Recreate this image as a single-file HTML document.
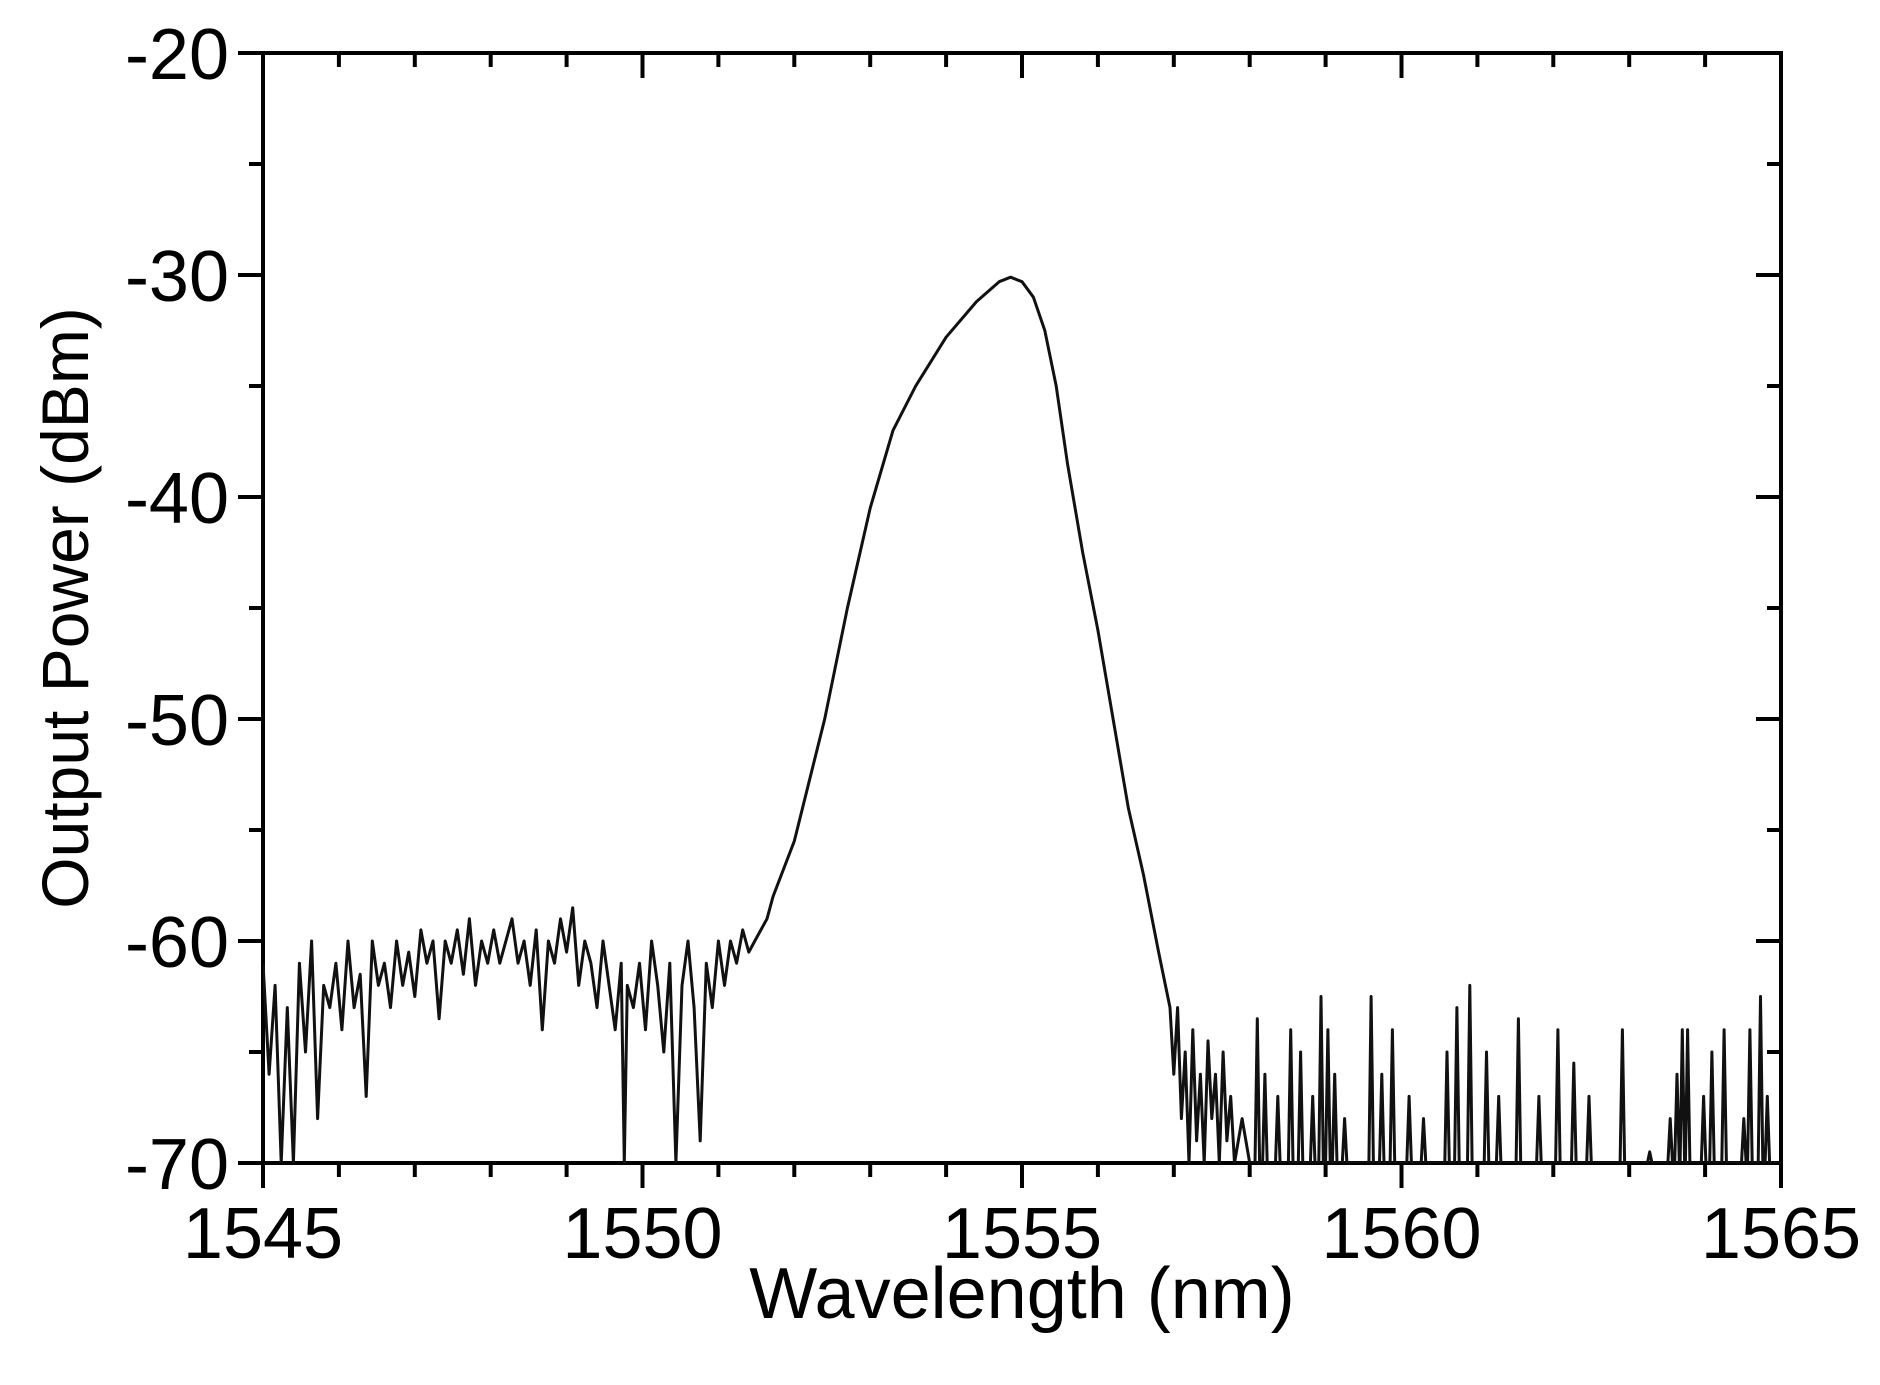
<!DOCTYPE html>
<html><head><meta charset="utf-8">
<style>
html,body{margin:0;padding:0;background:#fff;}
svg{display:block;}
text{font-family:"Liberation Sans",Arial,sans-serif;fill:#000;}
</style></head>
<body>
<svg id="chart" width="1880" height="1385" viewBox="0 0 1880 1385" xmlns="http://www.w3.org/2000/svg">
<defs><clipPath id="plotclip"><rect x="263" y="53" width="1518" height="1110"/></clipPath></defs>
<g id="axes"></g>
<g id="series" clip-path="url(#plotclip)"></g>
<text x="1022" y="1318" font-size="72" text-anchor="middle">Wavelength (nm)</text>
<text x="0" y="0" font-size="66" text-anchor="middle" transform="translate(88,608) rotate(-90)">Output Power (dBm)</text>
</svg>
<script>
const xTicks=[1545,1550,1555,1560,1565];
const yTicks=[-20,-30,-40,-50,-60,-70];
const baseWl=[1545.00,1545.08,1545.16,1545.24,1545.32,1545.40,1545.48,1545.56,1545.64,1545.72,1545.80,1545.88,1545.96,1546.04,1546.12,1546.20,1546.28,1546.36,1546.44,1546.52,1546.60,1546.68,1546.76,1546.84,1546.92,1547.00,1547.08,1547.16,1547.24,1547.32,1547.40,1547.48,1547.56,1547.64,1547.72,1547.80,1547.88,1547.96,1548.04,1548.12,1548.20,1548.28,1548.36,1548.44,1548.52,1548.60,1548.68,1548.76,1548.84,1548.92,1549.00,1549.08,1549.16,1549.24,1549.32,1549.40,1549.48,1549.56,1549.64,1549.72,1549.76,1549.80,1549.88,1549.96,1550.04,1550.12,1550.20,1550.28,1550.36,1550.44,1550.52,1550.60,1550.68,1550.76,1550.84,1550.92,1551.00,1551.08,1551.16,1551.24,1551.32,1551.40,1551.48,1551.56,1551.64,1551.72,
1552.0,1552.4,1552.7,1553.0,1553.3,1553.6,1554.0,1554.4,1554.7,1554.85,1555.0,1555.15,1555.3,1555.45,1555.6,1555.8,1556.0,1556.2,1556.4,1556.6,1556.8,1556.95,
1557.0,1557.05,1557.1,1557.15,1557.2,1557.25,1557.3,1557.35,1557.4,1557.45,1557.5,1557.55,1557.6,1557.65,1557.7,1557.75,1557.8,1557.9,1558.0];
const basePw=[-61,-66,-62,-70,-63,-70,-61,-65,-60,-68,-62,-63,-61,-64,-60,-63,-61.5,-67,-60,-62,-61,-63,-60,-62,-60.5,-62.5,-59.5,-61,-60,-63.5,-60,-61,-59.5,-61.5,-59,-62,-60,-61,-59.5,-61,-60,-59,-61,-60,-62,-59.5,-64,-60,-61,-59,-60.5,-58.5,-62,-60,-61,-63,-60,-62,-64,-61,-70,-62,-63,-61,-64,-60,-62,-65,-61,-70,-62,-60,-63,-69,-61,-63,-60,-62,-60,-61,-59.5,-60.5,-60,-59.5,-59,-58,
-55.5,-50,-45,-40.5,-37,-35,-32.8,-31.2,-30.3,-30.1,-30.3,-31,-32.5,-35,-38.5,-42.5,-46,-50,-54,-57,-60.5,-63,
-66,-63,-68,-65,-70,-64,-69,-66,-70,-64.5,-68,-66,-70,-65,-69,-67,-70,-68,-70];
const spikeWl=[1558.10,1558.20,1558.37,1558.54,1558.67,1558.83,1558.94,1559.03,1559.12,1559.25,1559.60,1559.74,1559.88,1560.10,1560.29,1560.60,1560.73,1560.90,1561.12,1561.28,1561.54,1561.81,1562.06,1562.27,1562.47,1562.91,1563.27,1563.54,1563.63,1563.70,1563.77,1563.98,1564.09,1564.25,1564.51,1564.59,1564.73,1564.82];
const spikePw=[-63.5,-66,-67,-64,-65,-67,-62.5,-64,-66,-68,-62.5,-66,-64,-67,-68,-65,-63,-62,-65,-67,-63.5,-67,-64,-65.5,-67,-64,-69.5,-68,-66,-64,-64,-67,-65,-64,-68,-64,-62.5,-67];

const L=263,R=1781,T=53,B=1163;
const xs=v=>L+(v-1545)/20*(R-L);
function yScale(v){return T+(-20-v)/50*(B-T);}
const NS="http://www.w3.org/2000/svg";
const axes=document.getElementById('axes');
function mk(tag,attrs,parent){const e=document.createElementNS(NS,tag);for(const k in attrs)e.setAttribute(k,attrs[k]);parent.appendChild(e);return e;}
const fr=mk('rect',{x:L,y:T,width:R-L,height:B-T,fill:'none',stroke:'#000','stroke-width':4},axes);


for(let w=1545;w<=1565;w++){
  const x=xs(w);const major=(w%5===0);
  const t1=mk('line',{x1:x,x2:x,y1:B,y2:major?B+25:B+14,stroke:'#000','stroke-width':4},axes);
  
  
  const t2=mk('line',{x1:x,x2:x,y1:T,y2:major?T+25:T+14,stroke:'#000','stroke-width':4},axes);
  
  
}
xTicks.forEach(v=>{
  const t=mk('text',{x:xs(v),y:B+95,'font-size':72,'text-anchor':'middle'},axes);
  t.textContent=v;
  
  
});
for(let p=-20;p>=-70;p-=5){
  const y=yScale(p);const major=(p%10===0);
  const t1=mk('line',{x1:L,x2:major?L-25:L-14,y1:y,y2:y,stroke:'#000','stroke-width':4},axes);
  
  
  const t2=mk('line',{x1:R,x2:major?R-25:R-14,y1:y,y2:y,stroke:'#000','stroke-width':4},axes);
  
  
}
yTicks.forEach(v=>{
  const t=mk('text',{x:L-34,y:yScale(v)+26,'font-size':72,'text-anchor':'end'},axes);
  t.textContent=v;
  
  
});
let d='';
baseWl.forEach((w,i)=>{d+=(i?'L':'M')+xs(w).toFixed(1)+','+yScale(basePw[i]).toFixed(1);});
spikeWl.forEach((w,i)=>{
  d+='L'+xs(w-0.03).toFixed(1)+','+yScale(-70).toFixed(1);
  d+='L'+xs(w).toFixed(1)+','+yScale(spikePw[i]).toFixed(1);
  d+='L'+xs(w+0.03).toFixed(1)+','+yScale(-70).toFixed(1);
});
d+='L'+xs(1565).toFixed(1)+','+yScale(-70).toFixed(1);
const path=mk('path',{d:d,fill:'none',stroke:'#111','stroke-width':3,'stroke-linejoin':'round'},document.getElementById('series'));


</script>
</body></html>
